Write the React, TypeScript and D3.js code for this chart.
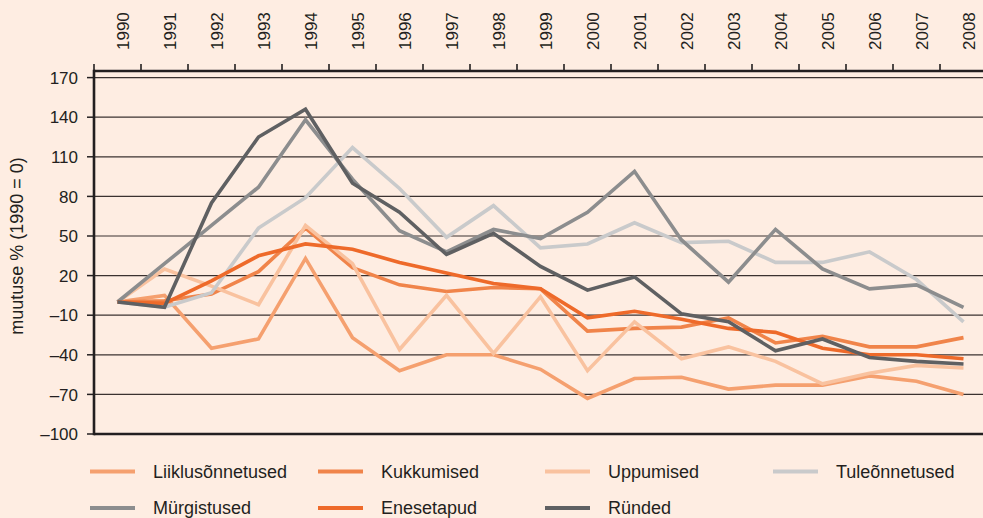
import React, { useEffect, useRef } from "react";
import * as d3 from "d3";

const years = ["1990", "1991", "1992", "1993", "1994", "1995", "1996", "1997", "1998", "1999", "2000", "2001", "2002", "2003", "2004", "2005", "2006", "2007", "2008"];
const yTicks = [-100, -70, -40, -10, 20, 50, 80, 110, 140, 170];

const liiklus = [0, 5, -35, -28, 33, -27, -52, -40, -40, -51, -73, -58, -57, -66, -63, -63, -56, -60, -70];
const kukkumised = [0, 1, 6, 23, 56, 26, 13, 8, 11, 10, -22, -20, -19, -12, -31, -26, -34, -34, -27];
const uppumised = [0, 25, 12, -2, 58, 29, -36, 5, -39, 4, -52, -15, -43, -34, -45, -62, -54, -48, -50];
const tuleonnetused = [0, -4, 7, 56, 79, 117, 86, 49, 73, 41, 44, 60, 45, 46, 30, 30, 38, 17, -15];
const murgistused = [0, 29, 58, 87, 138, 93, 54, 38, 55, 48, 68, 99, 47, 15, 55, 25, 10, 13, -4];
const enesetapud = [0, -1, 16, 35, 44, 40, 30, 22, 14, 10, -12, -7, -13, -20, -23, -35, -40, -40, -43];
const rynded = [0, -4, 75, 125, 146, 90, 68, 36, 52, 27, 9, 19, -9, -15, -37, -28, -42, -45, -47];

const seriesNames = ["Liiklusõnnetused", "Kukkumised", "Uppumised", "Tuleõnnetused", "Mürgistused", "Enesetapud", "Ründed"];
const seriesColors = ["#F5A06F", "#F0844A", "#F9C29F", "#C9CACB", "#8C8D8E", "#EE6A2A", "#5F6062"];

const FONT = "'Liberation Sans', Arial, sans-serif";

const App = () => {
  const ref = useRef<SVGSVGElement>(null);

  useEffect(() => {
    const svg = d3.select(ref.current);
    svg.selectAll("*").remove();

    const width = 983;
    const height = 518;
    const left = 94;
    const right = 987;
    const top = 71;
    const bottom = 434;

    const series = [liiklus, kukkumised, uppumised, tuleonnetused, murgistused, enesetapud, rynded];

    svg.append("rect").attr("width", width).attr("height", height).attr("fill", "#FEEDE2");

    const x = d3.scaleBand().domain(years).range([left, right]).padding(0);
    const y = d3.scaleLinear().domain([-100, 175]).range([bottom, top]);

    // gridlines
    svg
      .selectAll(".grid")
      .data(yTicks)
      .enter()
      .append("line")
      .attr("x1", left)
      .attr("x2", width)
      .attr("y1", (d) => y(d))
      .attr("y2", (d) => y(d))
      .attr("stroke", "#3b3230")
      .attr("stroke-width", 1.2);

    // y tick marks + labels
    svg
      .selectAll(".ytick")
      .data(yTicks)
      .enter()
      .append("line")
      .attr("x1", left - 7)
      .attr("x2", left)
      .attr("y1", (d) => y(d))
      .attr("y2", (d) => y(d))
      .attr("stroke", "#231F20")
      .attr("stroke-width", 1.5);

    svg
      .selectAll(".ylabel")
      .data(yTicks)
      .enter()
      .append("text")
      .attr("x", left - 16)
      .attr("y", (d) => y(d))
      .attr("dy", "0.36em")
      .attr("text-anchor", "end")
      .style("font-family", FONT)
      .style("font-size", "17px")
      .style("fill", "#231F20")
      .text((d) => (d < 0 ? "\u2013" + Math.abs(d) : String(d)));

    // top category axis
    svg
      .selectAll(".xtick")
      .data(years)
      .enter()
      .append("line")
      .attr("x1", (d) => x(d)!)
      .attr("x2", (d) => x(d)!)
      .attr("y1", top)
      .attr("y2", top - 7)
      .attr("stroke", "#231F20")
      .attr("stroke-width", 1.6);

    svg
      .selectAll(".xlabel")
      .data(years)
      .enter()
      .append("text")
      .attr("transform", (d) => `translate(${x(d)! + x.bandwidth() / 2 + 11},50) rotate(-90)`)
      .style("font-family", FONT)
      .style("font-size", "17px")
      .style("fill", "#231F20")
      .text((d) => d);

    // series lines
    const line = d3
      .line<number>()
      .x((_, i) => x(years[i])! + x.bandwidth() / 2)
      .y((d) => y(d));

    series.forEach((s, i) => {
      svg
        .append("path")
        .datum(s)
        .attr("d", line)
        .attr("fill", "none")
        .attr("stroke", seriesColors[i])
        .attr("stroke-width", 3.6)
        .attr("stroke-linejoin", "miter");
    });

    // axis frame
    svg.append("line").attr("x1", left).attr("x2", width).attr("y1", top).attr("y2", top)
      .attr("stroke", "#231F20").attr("stroke-width", 2.6);
    svg.append("line").attr("x1", left).attr("x2", width).attr("y1", bottom).attr("y2", bottom)
      .attr("stroke", "#231F20").attr("stroke-width", 2.6);
    svg.append("line").attr("x1", left).attr("x2", left).attr("y1", top - 1.3).attr("y2", bottom + 1.3)
      .attr("stroke", "#231F20").attr("stroke-width", 2.6);

    // y axis title
    svg
      .append("text")
      .attr("transform", `translate(23,246) rotate(-90)`)
      .attr("text-anchor", "middle")
      .style("font-family", FONT)
      .style("font-size", "18px")
      .style("fill", "#231F20")
      .text("muutuse % (1990 = 0)");

    // legend
    const colX = [90, 318, 545, 773];
    const rowY = [471.5, 508];
    const legend = svg
      .selectAll(".legend")
      .data(seriesNames)
      .enter()
      .append("g")
      .attr("transform", (_, i) => `translate(${colX[i % 4]},${rowY[Math.floor(i / 4)]})`);

    legend
      .append("line")
      .attr("x1", 0)
      .attr("x2", 45)
      .attr("stroke", (_, i) => seriesColors[i])
      .attr("stroke-width", 4);

    legend
      .append("text")
      .attr("x", 63)
      .attr("dy", "0.35em")
      .style("font-family", FONT)
      .style("font-size", "18px")
      .style("fill", "#231F20")
      .text((d) => d);
  }, []);

  return (
    <svg
      ref={ref}
      width={983}
      height={518}
      style={{ position: "absolute", left: 0, top: 0, display: "block" }}
    ></svg>
  );
};

export default App;
